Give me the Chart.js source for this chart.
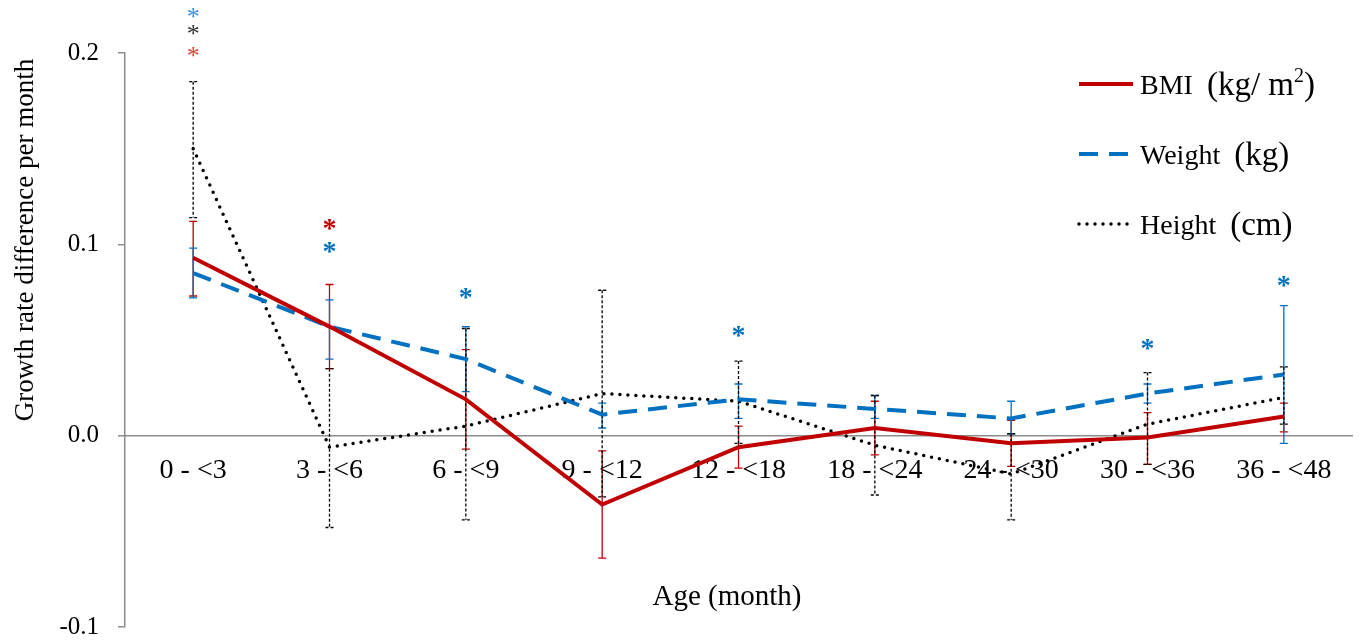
<!DOCTYPE html>
<html>
<head>
<meta charset="utf-8">
<script src="https://cdn.jsdelivr.net/npm/chart.js@4"></script>
<style>
  html, body { margin: 0; padding: 0; background: #fff; }
  #wrap { width: 1366px; height: 643px; }
</style>
</head>
<body>
<div id="wrap"><canvas id="growthChart"></canvas></div>
<script>
const ageGroups = ['0 - <3', '3 - <6', '6 - <9', '9 - <12', '12 - <18', '18 - <24', '24 - <30', '30 - <36', '36 - <48'];
const yTicks = [-0.1, 0.0, 0.1, 0.2];

// BMI (kg/m2)
const bmiValues = [0.093, 0.057, 0.019, -0.036, -0.006, 0.004, -0.004, -0.001, 0.010];
const bmiUpper  = [0.112, 0.079, 0.045, -0.008, 0.005, 0.018, 0.008, 0.012, 0.017];
const bmiLower  = [0.073, 0.035, -0.007, -0.064, -0.017, -0.010, -0.016, -0.015, 0.002];
// Weight (kg)
const weightValues = [0.085, 0.057, 0.040, 0.011, 0.019, 0.014, 0.009, 0.022, 0.032];
const weightUpper  = [0.098, 0.071, 0.057, 0.017, 0.027, 0.021, 0.018, 0.027, 0.068];
const weightLower  = [0.072, 0.040, 0.023, 0.004, 0.009, 0.009, 0.001, 0.017, -0.004];
// Height (cm)
const heightValues = [0.150, -0.006, 0.005, 0.022, 0.018, -0.005, -0.020, 0.006, 0.020];
const heightUpper  = [0.185, 0.035, 0.056, 0.076, 0.039, 0.021, 0.001, 0.033, 0.036];
const heightLower  = [0.114, -0.048, -0.044, -0.032, -0.004, -0.031, -0.044, -0.015, 0.006];

// significance markers (value where the * sits)
const bmiStars    = [0.2005, 0.1105, null, null, null, null, null, null, null];
const weightStars = [0.221, 0.0985, 0.0745, null, 0.0545, null, null, 0.0475, 0.0805];
const heightStars = [0.212, null, null, null, null, null, null, null, null];

const RED = '#c00000';
const BLUE = '#0070c0';
const BLACK = '#000000';
const SERIF = "'Liberation Serif', 'Times New Roman', serif";

const series = [
    { data: bmiValues, lo: bmiLower, hi: bmiUpper, stars: bmiStars, color: RED, light: '#e0403c', dash: [] },
    { data: weightValues, lo: weightLower, hi: weightUpper, stars: weightStars, color: BLUE, light: '#3b8ede', dash: [] },
    { data: heightValues, lo: heightLower, hi: heightUpper, stars: heightStars, color: BLACK, light: '#333333', dash: [3, 2] },
];

// category labels, error bars, asterisks, legend and axis titles
const extras = {
    id: 'extras',
    beforeDatasetsDraw(chart) {
        const ctx = chart.ctx;
        const x = chart.scales.x, y = chart.scales.y;
        ctx.save();
        // category labels sit just under the zero line
        ctx.fillStyle = '#000';
        ctx.font = '28px ' + SERIF;
        ctx.textAlign = 'center';
        ctx.textBaseline = 'middle';
        const y0 = y.getPixelForValue(0);
        ageGroups.forEach((lbl, i) => ctx.fillText(lbl, x.getPixelForValue(i), y0 + 35));

        series.forEach(s => {
            ctx.strokeStyle = s.color;
            ctx.lineWidth = 1.3;
            ctx.setLineDash(s.dash);
            s.data.forEach((v, i) => {
                const px = x.getPixelForValue(i);
                const top = y.getPixelForValue(s.hi[i]);
                const bot = y.getPixelForValue(s.lo[i]);
                ctx.beginPath();
                ctx.moveTo(px, top); ctx.lineTo(px, bot);
                ctx.moveTo(px - 4, top); ctx.lineTo(px + 4, top);
                ctx.moveTo(px - 4, bot); ctx.lineTo(px + 4, bot);
                ctx.stroke();
            });
        });
        ctx.restore();
    },
    afterDatasetsDraw(chart) {
        const ctx = chart.ctx;
        const x = chart.scales.x, y = chart.scales.y;
        ctx.save();
        ctx.textAlign = 'center';
        ctx.textBaseline = 'alphabetic';
        series.forEach(s => {
            s.stars.forEach((v, i) => {
                if (v === null) return;
                ctx.font = i === 0 ? '26px ' + SERIF : 'bold 28px ' + SERIF;
                ctx.fillStyle = i === 0 ? s.light : s.color;
                const m = ctx.measureText('*');
                const off = (m.actualBoundingBoxAscent - m.actualBoundingBoxDescent) / 2;
                ctx.fillText('*', x.getPixelForValue(i), y.getPixelForValue(v) + off);
            });
        });

        // axis titles
        ctx.fillStyle = '#000';
        ctx.font = '29px ' + SERIF;
        ctx.textBaseline = 'middle';
        ctx.fillText('Age (month)', 727, 597);
        ctx.font = '27px ' + SERIF;
        ctx.save();
        ctx.translate(26, 240);
        ctx.rotate(-Math.PI / 2);
        ctx.fillText('Growth rate difference per month', 0, 0);
        ctx.restore();

        // legend
        const rows = [
            { yPos: 84, color: RED, dash: [], cap: 'butt', width: 4, name: 'BMI', unit: '(kg/ m', sup: '2' },
            { yPos: 154, color: BLUE, dash: [19, 11], cap: 'butt', width: 4, name: 'Weight', unit: '(kg', sup: '' },
            { yPos: 224, color: BLACK, dash: [0, 8], cap: 'round', width: 3.5, name: 'Height', unit: '(cm', sup: '' },
        ];
        rows.forEach(r => {
            ctx.strokeStyle = r.color;
            ctx.lineWidth = r.width;
            ctx.lineCap = r.cap;
            ctx.setLineDash(r.dash);
            ctx.beginPath();
            ctx.moveTo(1079, r.yPos);
            ctx.lineTo(1133, r.yPos);
            ctx.stroke();
            ctx.setLineDash([]);
            ctx.textAlign = 'left';
            ctx.textBaseline = 'alphabetic';
            ctx.fillStyle = '#000';
            ctx.font = '28px ' + SERIF;
            ctx.fillText(r.name, 1140, r.yPos + 10);
            let px = 1140 + ctx.measureText(r.name).width + 14;
            ctx.font = '33px ' + SERIF;
            ctx.fillText(r.unit, px, r.yPos + 11);
            px += ctx.measureText(r.unit).width;
            if (r.sup) {
                ctx.font = '20px ' + SERIF;
                ctx.fillText(r.sup, px, r.yPos - 2);
                px += ctx.measureText(r.sup).width;
            }
            ctx.font = '33px ' + SERIF;
            ctx.fillText(')', px, r.yPos + 11);
        });
        ctx.restore();
    }
};

new Chart(document.getElementById('growthChart'), {
    type: 'line',
    data: {
        labels: ageGroups,
        datasets: [
            {
                label: 'BMI (kg/ m²)',
                data: bmiValues,
                borderColor: RED,
                borderWidth: 4,
                pointRadius: 0,
                tension: 0,
            },
            {
                label: 'Weight (kg)',
                data: weightValues,
                borderColor: BLUE,
                borderWidth: 4,
                borderDash: [19, 11],
                pointRadius: 0,
                tension: 0,
            },
            {
                label: 'Height (cm)',
                data: heightValues,
                borderColor: BLACK,
                borderWidth: 3.5,
                borderDash: [0, 8],
                borderCapStyle: 'round',
                pointRadius: 0,
                tension: 0,
            }
        ]
    },
    options: {
        responsive: true,
        maintainAspectRatio: false,
        animation: false,
        layout: { padding: { top: 53, right: 14, bottom: 16, left: 0 } },
        plugins: {
            legend: { display: false },
            tooltip: { enabled: false }
        },
        scales: {
            x: {
                position: { y: 0 },
                offset: true,
                grid: { display: false, drawTicks: false },
                border: { display: true, color: '#8c8c8c', width: 1.5 },
                ticks: { display: false }
            },
            y: {
                min: -0.1,
                max: 0.2,
                afterFit: scale => {
                    scale.width = 125;
                    scale.paddingTop = 0;
                    scale.paddingBottom = 0;
                },
                afterBuildTicks: scale => { scale.ticks = yTicks.map(v => ({ value: v })); },
                grid: { drawOnChartArea: false, drawTicks: true, tickLength: 7, color: '#8c8c8c', lineWidth: 1.5 },
                border: { display: true, color: '#8c8c8c', width: 1.5 },
                ticks: {
                    color: '#000',
                    padding: 19,
                    font: { family: SERIF, size: 25 },
                    callback: value => value.toFixed(1)
                }
            }
        }
    },
    plugins: [extras]
});
</script>
</body>
</html>
